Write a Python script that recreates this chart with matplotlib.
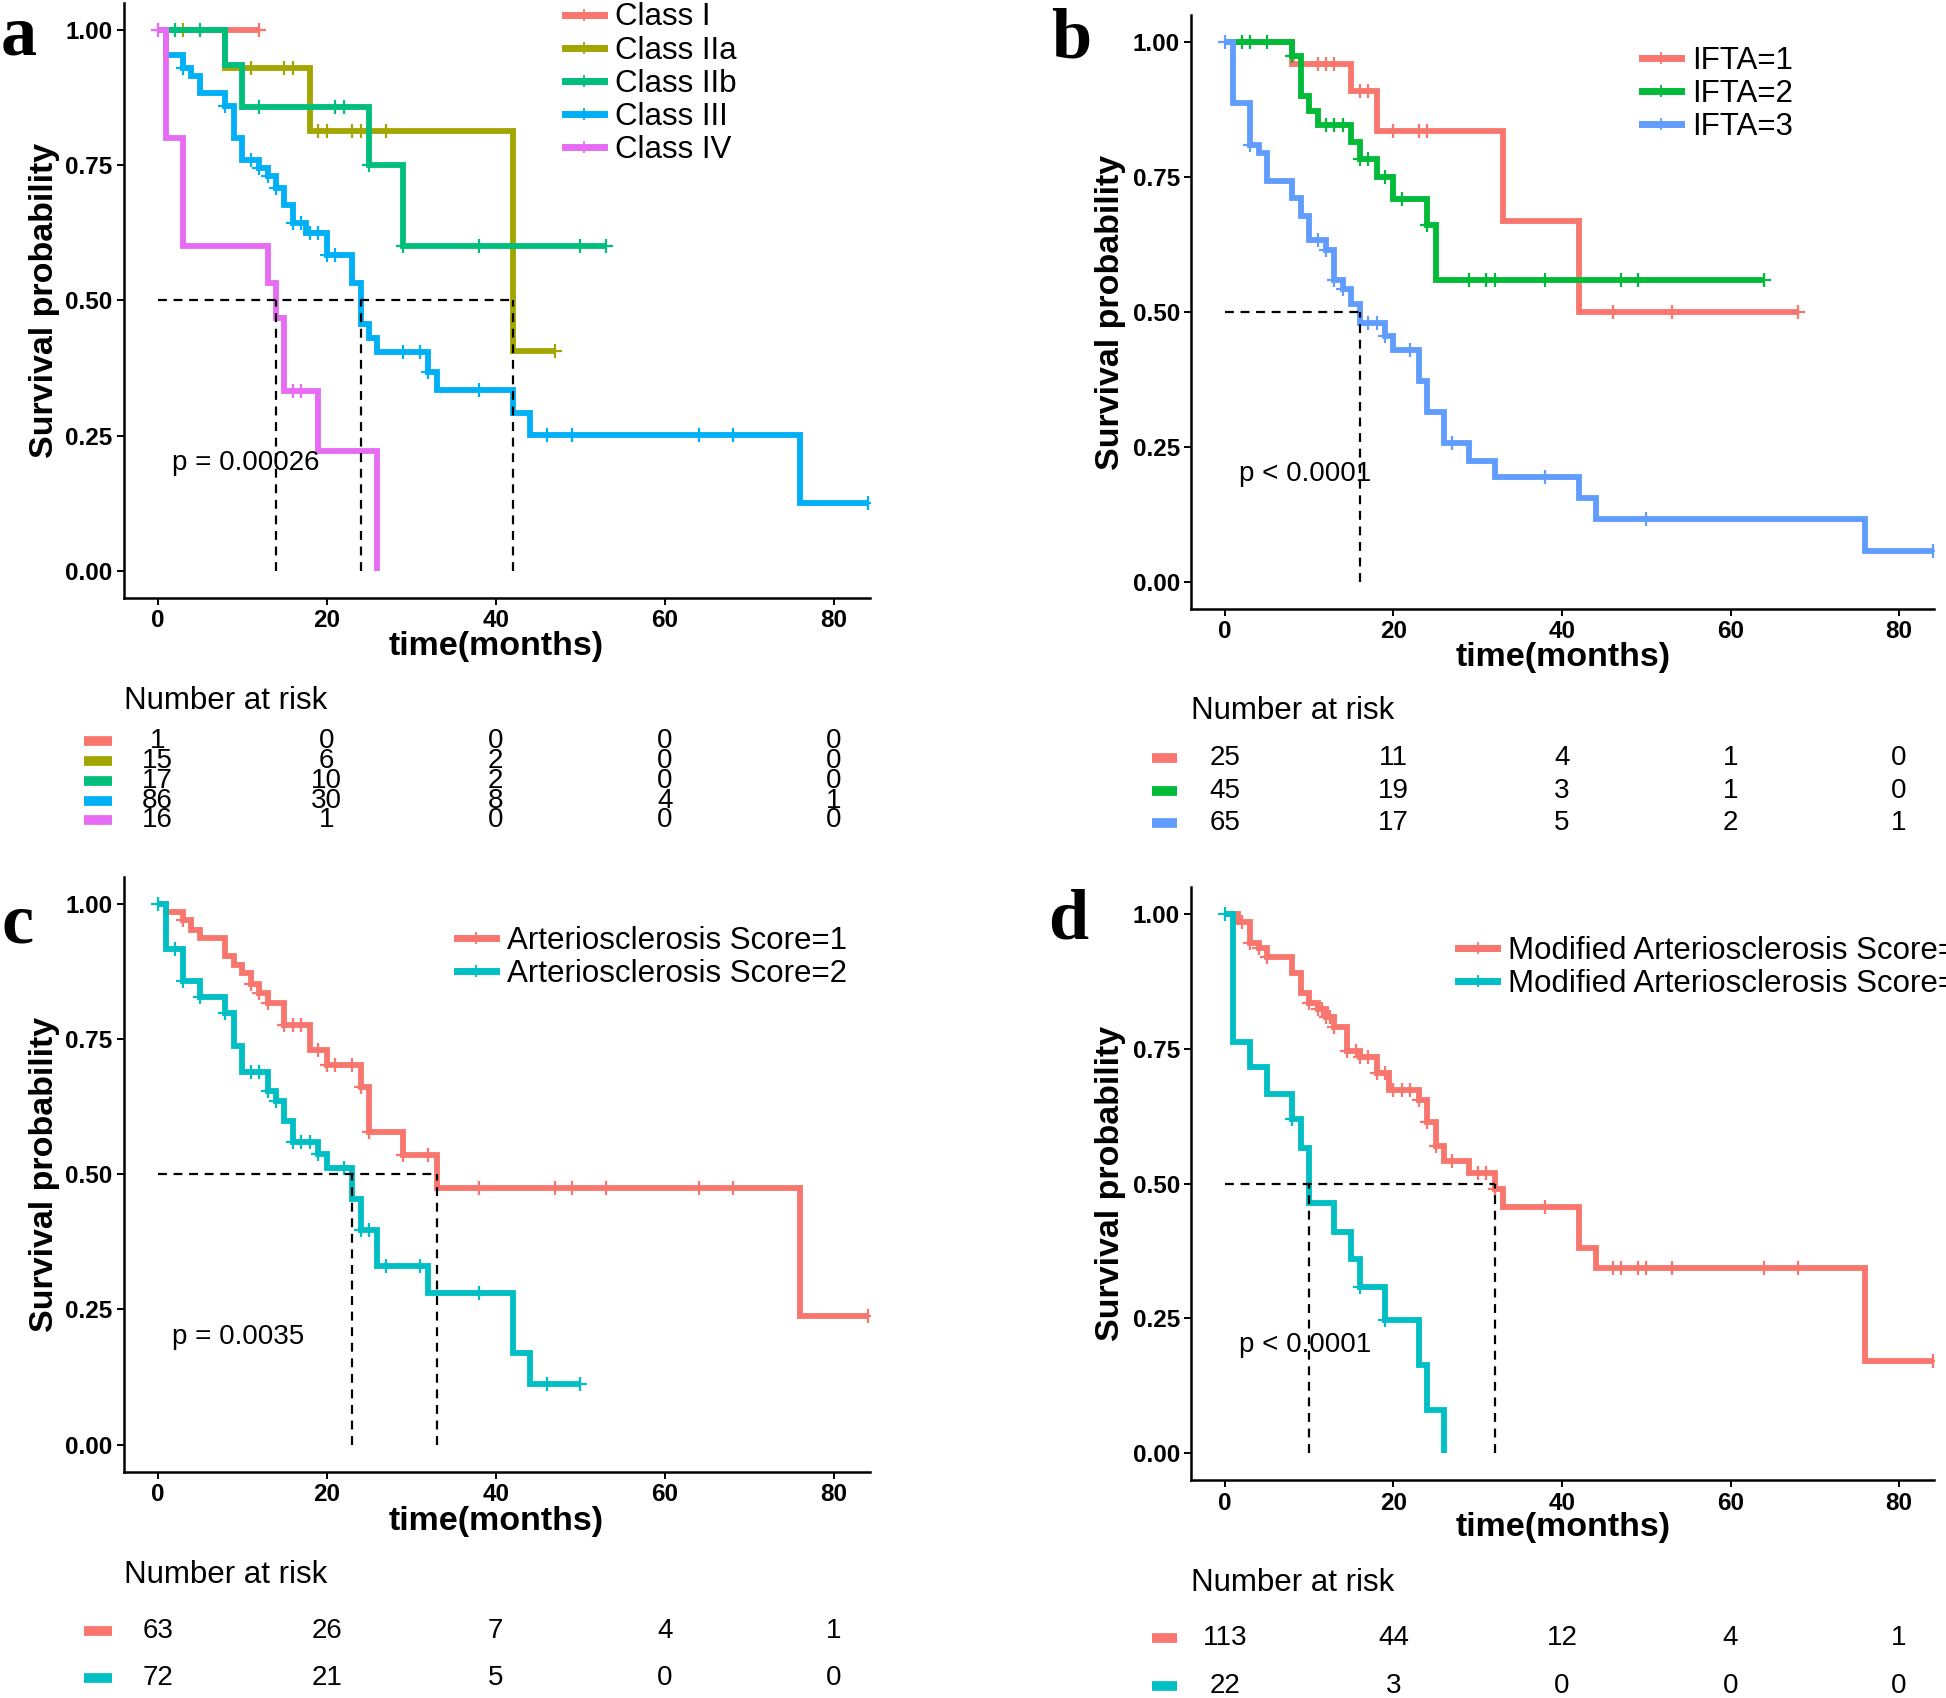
import matplotlib
matplotlib.use("Agg")
import matplotlib.pyplot as plt
import matplotlib.transforms as mtransforms
from matplotlib.lines import Line2D
from matplotlib import font_manager

plt.rcParams['font.family'] = ['Liberation Sans', 'DejaVu Sans']
_names = {f.name for f in font_manager.fontManager.ttflist}
NARROW = 'Liberation Sans Narrow' if 'Liberation Sans Narrow' in _names else 'Liberation Sans'

# ---------------- data (months, survival after each event) ----------------
risk_times = [0, 20, 40, 60, 80]

# panel a : histological class
a_labels = ["Class I", "Class IIa", "Class IIb", "Class III", "Class IV"]
a_colors = ["#F8766D", "#A3A500", "#00BF7D", "#00B0F6", "#E76BF3"]
a1_t, a1_s, a1_end, a1_c = [], [], 12, [12]
a2_t = [8, 18, 42]
a2_s = [0.929, 0.813, 0.406]
a2_end, a2_c = 47, [3, 11, 15, 16, 19, 20, 23, 24, 27, 47]
a3_t = [8, 10, 25, 29]
a3_s = [0.935, 0.857, 0.75, 0.60]
a3_end, a3_c = 53, [2, 5, 12, 21, 22, 25, 29, 38, 50, 53]
a4_t = [1, 3, 4, 5, 8, 9, 10, 12, 13, 14, 15, 16, 17.6, 20, 23, 24, 25, 26, 32, 33, 42, 44, 76]
a4_s = [0.953, 0.93, 0.915, 0.883, 0.859, 0.80, 0.759, 0.745, 0.73, 0.708, 0.677, 0.643, 0.624,
        0.583, 0.532, 0.457, 0.43, 0.404, 0.368, 0.335, 0.291, 0.251, 0.126]
a4_end, a4_c = 84, [3, 8, 11, 12, 13, 14, 16, 17, 18, 19, 20, 21, 29, 31, 32, 38, 46, 49, 64, 68, 84]
a5_t = [1, 3, 13, 14, 15, 19, 26]
a5_s = [0.80, 0.60, 0.533, 0.467, 0.333, 0.222, 0.0]
a5_end, a5_c = 26, [0, 16, 17]
a_risk = [[1, 0, 0, 0, 0], [15, 6, 2, 0, 0], [17, 10, 2, 0, 0], [86, 30, 8, 4, 1], [16, 1, 0, 0, 0]]
a_pval = "p = 0.00026"

# panel b : IFTA
b_labels = ["IFTA=1", "IFTA=2", "IFTA=3"]
b_colors = ["#F8766D", "#00BA38", "#619CFF"]
b1_t = [8, 15, 18, 33, 42]
b1_s = [0.96, 0.909, 0.836, 0.668, 0.50]
b1_end, b1_c = 68, [11, 12, 13, 16, 17, 20, 23, 24, 46, 53, 68]
b2_t = [8, 9, 10, 11, 15, 16, 18, 20, 24, 25]
b2_s = [0.975, 0.90, 0.873, 0.846, 0.816, 0.783, 0.75, 0.71, 0.662, 0.56]
b2_end, b2_c = 64, [2, 3, 5, 8, 12, 13, 14, 16, 17, 19, 21, 24, 29, 31, 32, 38, 47, 49, 64]
b3_t = [1, 3, 4, 5, 8, 9, 10, 12, 13, 14, 15, 16, 19, 20, 23, 24, 26, 29, 32, 42, 44, 76]
b3_s = [0.887, 0.809, 0.794, 0.743, 0.712, 0.679, 0.633, 0.615, 0.56, 0.542, 0.515, 0.48,
        0.455, 0.43, 0.372, 0.315, 0.258, 0.225, 0.194, 0.155, 0.117, 0.058]
b3_end, b3_c = 84, [0, 3, 11, 12, 13, 14, 17, 18, 19, 22, 27, 38, 50, 84]
b_risk = [[25, 11, 4, 1, 0], [45, 19, 3, 1, 0], [65, 17, 5, 2, 1]]
b_pval = "p < 0.0001"

# panel c : arteriosclerosis score
c_labels = ["Arteriosclerosis Score=1", "Arteriosclerosis Score=2"]
c_colors = ["#F8766D", "#00BFC4"]
c1_t = [1, 3, 4, 5, 8, 9, 10, 11, 12, 13, 15, 18, 20, 24, 25, 29, 33, 76]
c1_s = [0.984, 0.969, 0.952, 0.936, 0.903, 0.887, 0.871, 0.852, 0.835, 0.817, 0.776, 0.730,
        0.702, 0.662, 0.578, 0.536, 0.475, 0.238]
c1_end, c1_c = 84, [3, 11, 12, 13, 15, 16, 17, 19, 20, 21, 23, 24, 25, 29, 32, 38, 47, 49, 53, 64, 68, 84]
c2_t = [1, 3, 5, 8, 9, 10, 13, 14, 15, 16, 19, 20, 23, 24, 26, 32, 42, 44]
c2_s = [0.916, 0.857, 0.828, 0.797, 0.737, 0.688, 0.653, 0.636, 0.599, 0.559, 0.537, 0.512,
        0.455, 0.397, 0.331, 0.281, 0.170, 0.113]
c2_end, c2_c = 50, [0, 2, 3, 5, 8, 11, 12, 13, 14, 16, 17, 18, 19, 22, 24, 25, 27, 31, 38, 46, 50]
c_risk = [[63, 26, 7, 4, 1], [72, 21, 5, 0, 0]]
c_pval = "p = 0.0035"

# panel d : modified arteriosclerosis score
d_labels = ["Modified Arteriosclerosis Score=1", "Modified Arteriosclerosis Score=2"]
d_colors = ["#F8766D", "#00BFC4"]
d1_t = [1.5, 3, 4, 5, 8, 9, 10, 11, 12, 13, 14.5, 16, 18, 19.5, 23, 24, 25, 26, 29, 32, 33, 42, 44, 76]
d1_s = [0.984, 0.945, 0.936, 0.919, 0.890, 0.852, 0.834, 0.823, 0.808, 0.790, 0.746, 0.735,
        0.705, 0.674, 0.654, 0.614, 0.570, 0.542, 0.519, 0.489, 0.456, 0.381, 0.343, 0.171]
d1_end = 84
d1_c = [2, 3, 4, 5, 10, 11, 11.5, 12, 12.5, 13, 14.5, 15.5, 16, 17, 18, 19, 20, 21, 22, 23, 24,
        25, 27, 30, 31, 32, 38, 46, 47, 49, 50, 53, 64, 68, 84]
d2_t = [1, 3, 5, 8, 9, 10, 13, 15, 16, 19, 23, 24, 26]
d2_s = [0.762, 0.715, 0.665, 0.619, 0.566, 0.464, 0.411, 0.360, 0.308, 0.248, 0.163, 0.081, 0.0]
d2_end, d2_c = 26, [0, 8, 16, 19]
d_risk = [[113, 44, 12, 4, 1], [22, 3, 0, 0, 0]]
d_pval = "p < 0.0001"

# ---------------- layout (measured on a 1568x1368 copy of the reference) ----------------
W, H = 1568.0, 1368.0
XLIM = (-4, 84.2)
YLIM = (-0.05, 1.05)


def fx(p):
    return p / W


def fy(p):
    return 1 - p / H


def km_rect(x0, xpm, y1, y0):
    # x0: pixel of month 0, xpm: pixels per month, y1/y0: pixel of survival 1 / 0
    unit = y0 - y1
    left = x0 + XLIM[0] * xpm
    right = x0 + XLIM[1] * xpm
    top = y1 - 0.05 * unit
    bot = y0 + 0.05 * unit
    return [fx(left), fy(bot), (right - left) / W, (bot - top) / H]


def table_rect(x0, xpm, rows):
    gap = (rows[-1] - rows[0]) / max(len(rows) - 1, 1)
    left = x0 + XLIM[0] * xpm
    right = x0 + XLIM[1] * xpm
    top = rows[0] - gap / 2
    bot = rows[-1] + gap / 2
    return [fx(left), fy(bot), (right - left) / W, (bot - top) / H]


def surv_at(t, ev_t, ev_s):
    s = 1.0
    for tt, ss in zip(ev_t, ev_s):
        if tt <= t:
            s = ss
    return s


def draw_km(ax, groups, colors, pval):
    medians = []
    for (ev_t, ev_s, end, cens), col in zip(groups, colors):
        xs = [0] + ev_t + [end]
        ys = [1.0] + ev_s + [ev_s[-1] if ev_s else 1.0]
        ax.step(xs, ys, where='post', color=col, lw=4.2, solid_joinstyle='miter',
                solid_capstyle='butt', zorder=3)
        cs = [surv_at(t, ev_t, ev_s) for t in cens]
        ax.plot(cens, cs, ls='none', marker='+', ms=10, mew=1.6, color=col, zorder=3)
        below = [t for t, s in zip(ev_t, ev_s) if s < 0.5]
        if below:
            medians.append(below[0])
    if medians:
        ax.hlines(0.5, 0, max(medians), colors='black', linestyles=(0, (4, 3)), lw=1.6, zorder=4)
        ax.vlines(medians, 0, 0.5, colors='black', linestyles=(0, (4, 3)), lw=1.6, zorder=4)
    ax.text(1.7, 0.2, pval, fontsize=20, ha='left', va='center', zorder=5)

    ax.set_xlim(*XLIM)
    ax.set_ylim(*YLIM)
    ax.set_xticks(risk_times)
    ax.set_yticks([0, 0.25, 0.5, 0.75, 1.0])
    ax.set_yticklabels(["0.00", "0.25", "0.50", "0.75", "1.00"])
    for side in ['top', 'right']:
        ax.spines[side].set_visible(False)
    for side in ['left', 'bottom']:
        ax.spines[side].set_linewidth(1.8)
    ax.tick_params(length=5, width=1.4, pad=3, labelsize=17.5)
    for lab in ax.get_xticklabels() + ax.get_yticklabels():
        lab.set_fontweight('bold')
    ax.set_ylabel("Survival probability", fontsize=24.5, fontweight='bold', va='center')
    ax.set_xlabel("time(months)", fontsize=24.5, fontweight='bold', va='center')


def draw_legend(ax, fig, labels, colors, x, y):
    handles = [Line2D([], [], color=c, lw=5, marker='+', ms=8, mew=1.3) for c in colors]
    ax.legend(handles, labels, loc='upper left', bbox_to_anchor=(fx(x), fy(y)),
              bbox_transform=fig.transFigure, frameon=False, fontsize=22.5,
              handlelength=1.25, handletextpad=0.35, labelspacing=0.1,
              borderpad=0, borderaxespad=0)


def draw_risk(ax, counts, colors, bar_x):
    n = len(counts)
    tr = mtransforms.blended_transform_factory(ax.transAxes, ax.transData)
    for i, (row, col) in enumerate(zip(counts, colors)):
        for t, v in zip(risk_times, row):
            ax.text(t, i, str(v), ha='center', va='center', fontsize=20, family=NARROW)
        ax.plot(bar_x, [i, i], transform=tr, color=col, lw=7, solid_capstyle='butt',
                clip_on=False)
    ax.set_xlim(*XLIM)
    ax.set_ylim(n - 0.5, -0.5)
    ax.axis('off')


fig = plt.figure(figsize=(19.46, 16.98), dpi=100)

panels = [
    dict(groups=[(a1_t, a1_s, a1_end, a1_c), (a2_t, a2_s, a2_end, a2_c), (a3_t, a3_s, a3_end, a3_c),
                 (a4_t, a4_s, a4_end, a4_c), (a5_t, a5_s, a5_end, a5_c)],
         labels=a_labels, colors=a_colors, risk=a_risk, pval=a_pval, letter='a',
         geo=(127, 6.8125, 24, 460), rows=[597, 613, 629, 645, 661], title=(100, 565),
         leg=(455, 2), letter_xy=(15, 30), bar=(68, 90), ylab_x=36, xlab_y=521),
    dict(groups=[(b1_t, b1_s, b1_end, b1_c), (b2_t, b2_s, b2_end, b2_c), (b3_t, b3_s, b3_end, b3_c)],
         labels=b_labels, colors=b_colors, risk=b_risk, pval=b_pval, letter='b',
         geo=(987, 6.79, 34, 469), rows=[611, 637, 663], title=(960, 573),
         leg=(1323, 37), letter_xy=(863, 32), bar=(928, 948), ylab_x=895, xlab_y=530),
    dict(groups=[(c1_t, c1_s, c1_end, c1_c), (c2_t, c2_s, c2_end, c2_c)],
         labels=c_labels, colors=c_colors, risk=c_risk, pval=c_pval, letter='c',
         geo=(127, 6.8125, 728, 1164), rows=[1314, 1352], title=(100, 1269),
         leg=(368, 746), letter_xy=(14, 745), bar=(68, 90), ylab_x=36, xlab_y=1226),
    dict(groups=[(d1_t, d1_s, d1_end, d1_c), (d2_t, d2_s, d2_end, d2_c)],
         labels=d_labels, colors=d_colors, risk=d_risk, pval=d_pval, letter='d',
         geo=(987, 6.79, 736, 1171), rows=[1320, 1358], title=(960, 1275),
         leg=(1175, 754), letter_xy=(861, 742), bar=(928, 948), ylab_x=895, xlab_y=1231),
]

for p in panels:
    x0, xpm, y1, y0 = p['geo']
    rect = km_rect(x0, xpm, y1, y0)
    ax = fig.add_axes(rect)
    draw_km(ax, p['groups'], p['colors'], p['pval'])
    left_px = x0 + XLIM[0] * xpm
    width_px = (XLIM[1] - XLIM[0]) * xpm
    height_px = (y0 - y1) * 1.1
    bot_px = y0 + 0.05 * (y0 - y1)
    ax.yaxis.set_label_coords((p['ylab_x'] - left_px) / width_px, 0.5)
    ax.xaxis.set_label_coords(0.5, -(p['xlab_y'] - bot_px) / height_px)
    draw_legend(ax, fig, p['labels'], p['colors'], *p['leg'])

    tax = fig.add_axes(table_rect(x0, xpm, p['rows']))
    bx = [(p['bar'][0] - left_px) / width_px, (p['bar'][1] - left_px) / width_px]
    draw_risk(tax, p['risk'], p['colors'], bx)
    fig.text(fx(p['title'][0]), fy(p['title'][1]), "Number at risk", ha='left', va='center',
             fontsize=22.5, family=NARROW)
    fig.text(fx(p['letter_xy'][0]), fy(p['letter_xy'][1]), p['letter'], ha='center', va='center',
             fontsize=52, fontweight='bold', family='Liberation Serif')

fig.savefig("out.png", dpi=100)
